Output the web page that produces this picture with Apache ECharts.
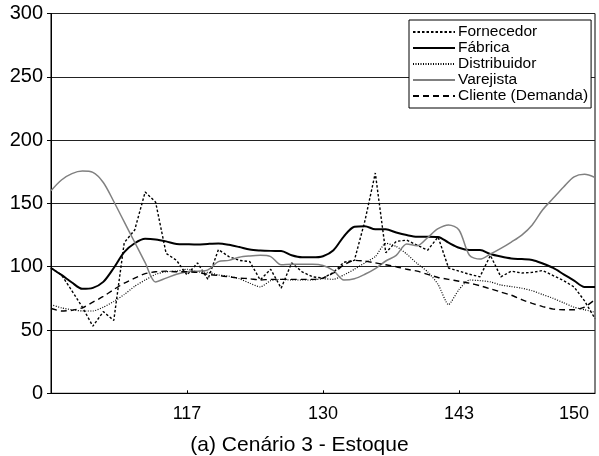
<!DOCTYPE html>
<html>
<head>
<meta charset="utf-8">
<script src="https://cdn.jsdelivr.net/npm/echarts@6/dist/echarts.min.js"></script>
<style>
  html, body { margin: 0; padding: 0; background: #fff; }
  #chart { width: 599px; height: 456px; }
</style>
</head>
<body>
<div id="chart"></div>
<script>
// Periods on the horizontal axis (one point per period)
const periods = [];
for (let p = 104; p <= 156; p++) periods.push(String(p));

// Labelled positions on the horizontal axis
const tickIndexes = [13, 26, 39, 50];
const tickLabels = ['117', '130', '143', '150'];
const tickMarkIndexes = [13, 26, 39];

// Inventory per supply-chain stage
const fornecedor = [99, 93.5, 81, 68, 53, 64.5, 57.5, 119, 129, 159, 151, 110.6, 105, 93.5, 103,
  90, 113.5, 108, 105, 104, 89.5, 98, 83, 103, 96, 92, 91, 95.5, 103.5, 105, 136, 174, 111, 120,
  121, 117, 113, 123.5, 99, 96.5, 94, 92, 109, 92, 96.5, 95, 95.5, 97, 93, 89, 84, 73, 59];
const fabrica = [99, 93.5, 87.5, 82.5, 83.3, 88, 99, 111.5, 118.5, 122, 121.5, 120, 118, 117.7, 117.5,
  118, 118.3, 117.3, 115.5, 113.5, 112.8, 112.5, 112.4, 109, 107.4, 107.4, 108.3, 113, 124, 131.5,
  132, 129.5, 129.5, 127, 125, 123.7, 123.7, 123.5, 119, 115, 113.2, 113.2, 110, 108, 106.5, 106,
  105.3, 102.5, 99, 94, 89, 84, 84];
const distribuidor = [70, 67.5, 66, 65, 65, 68, 72.5, 78, 84.5, 89.5, 94, 96, 96.5, 98, 96, 95.5,
  93.5, 92.5, 90.5, 87, 84, 89, 90, 89.5, 89.5, 89.5, 90.5, 90, 93.5, 98, 103, 108, 118.5, 116,
  110, 102.5, 96, 86, 70, 82, 89.5, 89, 88, 85.5, 84.3, 83, 81, 78, 75, 71.5, 68, 66, 64];
const varejista = [160, 168.5, 173.5, 175.5, 174.5, 166.5, 151.5, 135.4, 119.3, 103.2, 88, 91, 94,
  96, 96.5, 97.5, 104, 105, 107.5, 108.5, 109, 108, 101.5, 102, 102, 102, 101, 97, 89.5, 90.5, 94,
  98.5, 104.5, 109, 118, 116.5, 123, 130, 133, 129, 109, 106, 110, 114.5, 119.5, 125, 133, 145, 154,
  163, 171, 173, 170.5];
const cliente = [67, 65, 65.5, 67.5, 72, 76.5, 82, 87, 91, 94.5, 96, 96.5, 96, 96, 95.5, 94, 93, 92,
  91, 90.5, 89.5, 90, 90, 90, 90, 90, 91, 95, 101.5, 105, 104.5, 103, 101.5, 100, 98, 96.5, 94,
  91.5, 90, 88.5, 87, 85, 82.5, 80, 77.5, 74, 71, 68.5, 66.5, 66, 66, 68, 74];

const FONT = 'Liberation Sans, Arial, sans-serif';

function lineSeries(name, data, color, width, type, smooth) {
  return {
    name: name,
    type: 'line',
    data: data,
    symbol: 'none',
    smooth: smooth,
    animation: false,
    itemStyle: { color: color },
    lineStyle: { color: color, width: width, type: type }
  };
}

const chart = echarts.init(document.getElementById('chart'), null, { renderer: 'canvas' });
chart.setOption({
  backgroundColor: '#fff',
  animation: false,
  title: {
    text: '(a) Cenário 3 - Estoque',
    left: 'center',
    top: 430,
    textStyle: { fontFamily: FONT, fontSize: 21, fontWeight: 'normal', color: '#000' }
  },
  legend: {
    orient: 'vertical',
    left: 409,
    top: 20,
    padding: [4, 3, 4, 3],
    itemGap: 0,
    itemWidth: 42,
    itemHeight: 12,
    backgroundColor: '#fff',
    borderColor: '#000',
    borderWidth: 1,
    borderRadius: 0,
    itemStyle: { opacity: 0 },
    textStyle: { fontFamily: FONT, fontSize: 15.5, color: '#000', lineHeight: 16, padding: [0, 0, 0, -2] },
    data: ['Fornecedor', 'Fábrica', 'Distribuidor', 'Varejista', 'Cliente (Demanda)']
  },
  grid: {
    left: 51, right: 4, top: 13.5, bottom: 62.7,
    show: true, borderColor: '#000', borderWidth: 1, backgroundColor: 'transparent'
  },
  xAxis: {
    type: 'category',
    data: periods,
    boundaryGap: false,
    axisLine: { lineStyle: { color: '#000', width: 1 } },
    axisTick: {
      inside: true, length: 3,
      lineStyle: { color: '#000' },
      interval: (idx) => tickMarkIndexes.indexOf(idx) >= 0
    },
    axisLabel: {
      interval: (idx) => tickIndexes.indexOf(idx) >= 0,
      formatter: (val, idx) => {
        const k = tickIndexes.indexOf(idx);
        return k >= 0 ? tickLabels[k] : '';
      },
      fontFamily: FONT, fontSize: 18, color: '#000', margin: 12
    },
    splitLine: { show: false }
  },
  yAxis: {
    type: 'value',
    min: 0, max: 300, interval: 50,
    axisLine: { show: true, lineStyle: { color: '#000', width: 1 } },
    axisTick: { show: true, length: 4, lineStyle: { color: '#000' } },
    axisLabel: { fontFamily: FONT, fontSize: 20, color: '#000', margin: 8 },
    splitLine: { show: true, lineStyle: { color: '#222', width: 1 } }
  },
  series: [
    lineSeries('Fornecedor', fornecedor, '#000', 1.4, [2.5, 2], false),
    lineSeries('Fábrica', fabrica, '#000', 2, 'solid', 0.3),
    lineSeries('Distribuidor', distribuidor, '#000', 1.2, [1, 1.5], 0.2),
    lineSeries('Varejista', varejista, '#808080', 1.5, 'solid', 0.3),
    lineSeries('Cliente (Demanda)', cliente, '#000', 1.4, [6, 4], 0.2)
  ]
});
</script>
</body>
</html>
